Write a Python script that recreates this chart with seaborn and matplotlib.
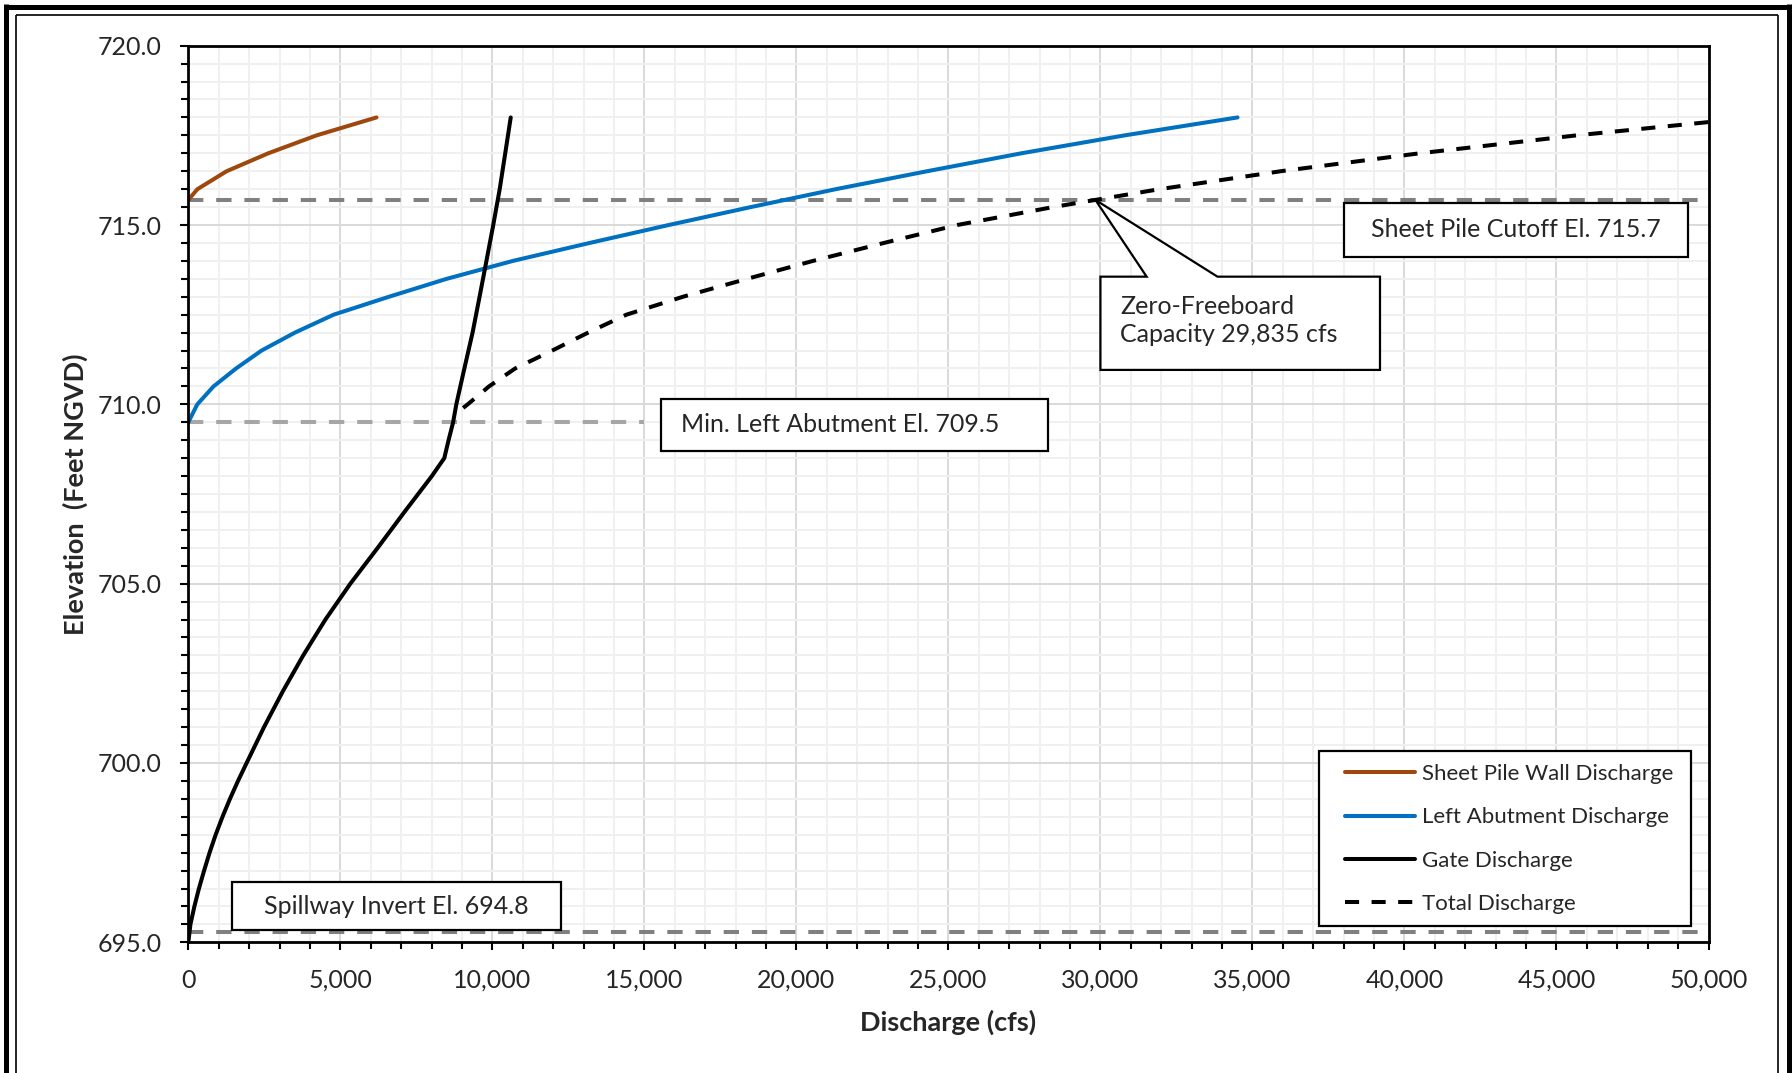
import numpy as np
import pandas as pd
import matplotlib
matplotlib.use("Agg")
import matplotlib.pyplot as plt
from matplotlib.patches import Rectangle, Polygon
from matplotlib.lines import Line2D
from matplotlib.ticker import MultipleLocator, FuncFormatter
import seaborn as sns

# ---------------- data ----------------
sheet_pile_q = [0, 300, 1260, 2630, 4220, 6190]
sheet_pile_el = [715.7, 716.0, 716.5, 717.0, 717.5, 718.0]

abutment_q = [0, 296, 830, 1570, 2410, 3506, 4780, 6600, 8500, 10680, 13200,
              15800, 18500, 21300, 24300, 27400, 30800, 34510]
abutment_el = [709.5, 710.0, 710.5, 711.0, 711.5, 712.0, 712.5, 713.0, 713.5,
               714.0, 714.5, 715.0, 715.5, 716.0, 716.5, 717.0, 717.5, 718.0]

gate_q = [0, 70, 200, 350, 520, 700, 900, 1125, 1370, 1635, 1918, 2490, 3110,
          3780, 4510, 5330, 6230, 7110, 8010, 8420, 8560, 8710, 8815, 9080,
          9350, 9580, 9806, 10030, 10242, 10424, 10605]
gate_el = [695.0, 695.5, 696.0, 696.5, 697.0, 697.5, 698.0, 698.5, 699.0,
           699.5, 700.0, 701.0, 702.0, 703.0, 704.0, 705.0, 706.0, 707.0,
           708.0, 708.5, 709.0, 709.5, 710.0, 711.0, 712.0, 713.0, 714.0,
           715.0, 716.0, 717.0, 718.0]

total_q = [9040, 9190, 9890, 10750, 11970, 13150, 14410, 16270, 18380, 20550,
           22880, 25290, 28440, 29835, 31950, 35930, 40500, 45660, 50000]
total_el = [709.9, 710.0, 710.5, 711.0, 711.5, 712.0, 712.5, 713.0, 713.5,
            714.0, 714.5, 715.0, 715.5, 715.7, 716.0, 716.5, 717.0, 717.5,
            717.87]

series_names = ["Sheet Pile Wall Discharge", "Left Abutment Discharge",
                "Gate Discharge", "Total Discharge"]

sheet_pile_cutoff_el = 715.7
min_left_abutment_el = 709.5
spillway_line_el = 695.3
zero_freeboard_q = 29835

x_limits = [0, 50000]
y_limits = [695.0, 720.0]

# ---------------- styling ----------------
sns.set_style("white")
plt.rcParams["font.family"] = ["Lato", "DejaVu Sans"]

W, H = 1792, 1073
fig = plt.figure(figsize=(W / 100, H / 100), dpi=100)
fig.patch.set_facecolor("white")

ax_l, ax_r, ax_t, ax_b = 188.3, 1708.5, 45.7, 942.3
ax = fig.add_axes([ax_l / W, 1 - ax_b / H, (ax_r - ax_l) / W, (ax_b - ax_t) / H])

def px_to_axes(X, Y):
    return (X - ax_l) / (ax_r - ax_l), (ax_b - Y) / (ax_b - ax_t)

BROWN = "#9E480E"
BLUE = "#0070C0"
LW = 2.9

# reference lines
ref_dash = (0, (3.8, 3.2))
REF_LW = 2.9
sns.lineplot(x=[0, 50000], y=[sheet_pile_cutoff_el] * 2, color="#808080",
             linewidth=REF_LW, linestyle=ref_dash, ax=ax, zorder=3, legend=False)
sns.lineplot(x=[0, 15000], y=[min_left_abutment_el] * 2, color="#A6A6A6",
             linewidth=REF_LW, linestyle=ref_dash, ax=ax, zorder=3, legend=False)
sns.lineplot(x=[0, 50000], y=[spillway_line_el] * 2, color="#808080",
             linewidth=REF_LW, linestyle=ref_dash, ax=ax, zorder=3, legend=False)

# data series
sns.lineplot(x=sheet_pile_q, y=sheet_pile_el, sort=False, estimator=None,
             color=BROWN, linewidth=LW, ax=ax, label=series_names[0], zorder=4)
sns.lineplot(x=abutment_q, y=abutment_el, sort=False, estimator=None,
             color=BLUE, linewidth=LW, ax=ax, label=series_names[1], zorder=4)
sns.lineplot(x=gate_q, y=gate_el, sort=False, estimator=None,
             color="black", linewidth=LW, ax=ax, label=series_names[2], zorder=5)
sns.lineplot(x=total_q, y=total_el, sort=False, estimator=None,
             color="black", linewidth=LW, linestyle=(0, (3.5, 3.1)), ax=ax,
             label=series_names[3], zorder=5)

ax.set_xlim(x_limits)
ax.set_ylim(y_limits)

# ticks and grid
ax.xaxis.set_major_locator(MultipleLocator(5000))
ax.xaxis.set_minor_locator(MultipleLocator(1000))
ax.yaxis.set_major_locator(MultipleLocator(5))
ax.yaxis.set_minor_locator(MultipleLocator(0.5))
ax.xaxis.set_major_formatter(FuncFormatter(lambda v, p: f"{v:,.0f}"))
ax.yaxis.set_major_formatter(FuncFormatter(lambda v, p: f"{v:.1f}"))
ax.grid(which="major", color="#D9D9D9", linewidth=1.4, zorder=0)
ax.grid(which="minor", color="#F0F0F0", linewidth=1.4, zorder=0)
ax.set_axisbelow(True)
ax.tick_params(which="both", direction="out", color="black", width=1.5,
               bottom=True, left=True, top=False, right=False)
ax.tick_params(which="major", length=6, labelsize=18, pad=13)
ax.tick_params(which="minor", length=5)
for s in ax.spines.values():
    s.set_color("black")
    s.set_linewidth(2.0)
    s.set_zorder(6)

ax.set_xlabel("Discharge (cfs)", fontsize=19.5, fontweight="bold")
ax.set_ylabel("Elevation  (Feet NGVD)", fontsize=19.5, fontweight="bold")
ax.xaxis.set_label_coords(0.5, px_to_axes(0, 1010)[1])
ax.yaxis.set_label_coords(px_to_axes(88, 0)[0], 0.5)

# ---------------- annotation boxes ----------------
def data_box(x0, x1, y0, y1):
    r = Rectangle((x0, y0), x1 - x0, y1 - y0, facecolor="white",
                  edgecolor="black", linewidth=1.6, zorder=7)
    ax.add_patch(r)

TXT = 18
# Sheet pile cutoff
data_box(38010, 49330, 714.12, 715.62)
ax.text(43670, 714.87, f"Sheet Pile Cutoff El. {sheet_pile_cutoff_el}",
        ha="center", va="center", fontsize=TXT, zorder=8)
# Min left abutment
data_box(15560, 28290, 708.70, 710.16)
ax.text(16220, 709.43, f"Min. Left Abutment El. {min_left_abutment_el}",
        ha="left", va="center", fontsize=TXT, zorder=8)
# Spillway invert
data_box(1426, 12270, 695.34, 696.68)
ax.text(6850, 696.0, "Spillway Invert El. 694.8",
        ha="center", va="center", fontsize=TXT, zorder=8)
# Callout
callout = Polygon([(30000, 710.96), (30000, 713.56), (31520, 713.56),
                   (zero_freeboard_q, sheet_pile_cutoff_el), (33850, 713.56),
                   (39195, 713.56), (39195, 710.96)], closed=True,
                  facecolor="white", edgecolor="black", linewidth=1.6,
                  zorder=7, joinstyle="miter")
ax.add_patch(callout)
ax.text(30650, 712.33, f"Zero-Freeboard\nCapacity {zero_freeboard_q:,} cfs",
        ha="left", va="center", fontsize=TXT, linespacing=1.28, zorder=8)

# ---------------- legend ----------------
lx0, ly0 = px_to_axes(1319, 926)
lx1, ly1 = px_to_axes(1691, 751)
ax.add_patch(Rectangle((lx0, ly0), lx1 - lx0, ly1 - ly0, transform=ax.transAxes,
                       facecolor="white", edgecolor="black", linewidth=1.6,
                       zorder=7))
leg = ax.legend(loc="center left", bbox_to_anchor=px_to_axes(1345, 839),
                frameon=False, fontsize=16, borderpad=0, borderaxespad=0,
                handlelength=3.15, handletextpad=0.3, labelspacing=1.05)
leg.set_zorder(9)

# ---------------- outer frame ----------------
def fline(xs, ys, lw):
    fig.add_artist(Line2D([x / W for x in xs], [1 - y / H for y in ys],
                          color="black", linewidth=lw, solid_capstyle="butt",
                          transform=fig.transFigure))

fline([5.5, 5.5], [4, H], 3.6)
fline([4, 1792], [6.5, 6.5], 3.6)
fline([1789, 1789], [4, H], 3.6)
fline([16, 16], [15, H], 1.2)
fline([16, 1778], [15, 15], 1.2)
fline([1778, 1778], [15, H], 1.2)

fig.savefig("out.png", dpi=100, facecolor="white")
